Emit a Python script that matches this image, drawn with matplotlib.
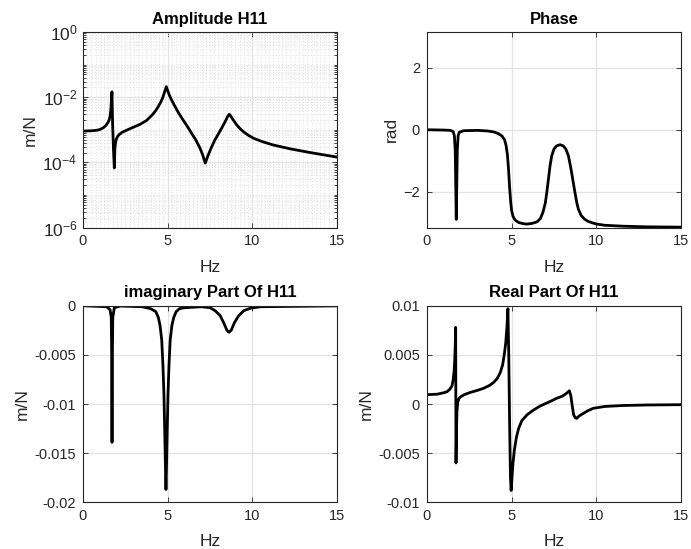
"""
FRF plots of H11: amplitude, phase, imaginary and real part
values read off the reference chart
"""
import matplotlib
matplotlib.use('Agg')  # no display
import matplotlib.pyplot as plt
from matplotlib.ticker import MultipleLocator, FixedLocator, NullFormatter

plt.rcParams['font.family'] = ['Liberation Sans', 'DejaVu Sans']
plt.rcParams['mathtext.fontset'] = 'custom'
plt.rcParams['mathtext.rm'] = 'Liberation Sans'
plt.rcParams['mathtext.it'] = 'Liberation Sans:italic'
plt.rcParams['mathtext.bf'] = 'Liberation Sans:bold'

# Amplitude |H11| (m/N)
amp_hz = [0, 0.5, 0.8, 1.0, 1.2, 1.35, 1.45, 1.54, 1.60, 1.65, 1.68, 1.71, 1.75,
          1.80, 1.85, 1.88, 1.92, 1.97, 2.05, 2.15, 2.3, 2.6, 2.95, 3.35, 3.74,
          4.1, 4.3, 4.45, 4.6, 4.72, 4.82, 4.92, 5.0, 5.1, 5.24, 5.4, 5.6, 5.92,
          6.15, 6.4, 6.65, 6.9, 7.05, 7.22, 7.4, 7.6, 7.8, 8.0, 8.2, 8.4, 8.55,
          8.64, 8.75, 8.9, 9.08, 9.3, 9.5, 9.8, 10.1, 10.6, 11.24, 12.23, 13.41,
          14.2, 15.0]
amp_val = [9.1e-4, 9.3e-4, 9.6e-4, 1.02e-3, 1.15e-3, 1.35e-3, 1.6e-3, 1.95e-3,
           2.6e-3, 4.5e-3, 8e-3, 1.46e-2, 1.5e-3, 2.5e-4, 6.7e-5, 2.5e-4, 4e-4,
           5.2e-4, 6.3e-4, 7.2e-4, 8.3e-4, 9.8e-4, 1.18e-3, 1.45e-3, 1.9e-3,
           2.9e-3, 3.9e-3, 5.2e-3, 7.2e-3, 1.0e-2, 1.45e-2, 2.1e-2, 1.6e-2, 1.15e-2,
           8e-3, 5.6e-3, 3.6e-3, 1.95e-3, 1.3e-3, 8e-4, 5e-4, 2.8e-4, 1.8e-4, 9.5e-5,
           1.7e-4, 3e-4, 5e-4, 7.5e-4, 1.15e-3, 1.8e-3, 2.6e-3, 3e-3, 2.5e-3,
           1.9e-3, 1.4e-3, 1.05e-3, 8.5e-4, 6.6e-4, 5.4e-4, 4.3e-4, 3.4e-4, 2.6e-4,
           2.0e-4, 1.7e-4, 1.45e-4]

# Phase (rad)
ph_hz = [0, 1.0, 1.38, 1.55, 1.62, 1.67, 1.70, 1.73, 1.76, 1.79, 1.84, 1.91, 2.17,
         3.0, 3.6, 3.94, 4.2, 4.43, 4.58, 4.67, 4.75, 4.82, 4.88, 4.94, 5.0, 5.08,
         5.2, 5.41, 5.7, 5.91, 6.2, 6.50, 6.7, 6.85, 6.99, 7.08, 7.17, 7.27, 7.37,
         7.5, 7.65, 7.86, 8.05, 8.2, 8.35, 8.45, 8.55, 8.64, 8.75, 8.85, 8.94, 9.1,
         9.3, 9.5, 9.75, 10.02, 10.5, 11.6, 13.0, 15.0]
ph_val = [0, -0.01, -0.02, -0.06, -0.2, -0.67, -1.8, -2.88, -1.8, -0.67, -0.2,
          -0.08, -0.03, -0.02, -0.04, -0.07, -0.12, -0.2, -0.32, -0.5, -0.8, -1.3,
          -1.85, -2.3, -2.6, -2.78, -2.9, -2.98, -3.02, -3.03, -3.01, -2.96, -2.85,
          -2.65, -2.35, -2.0, -1.6, -1.15, -0.83, -0.62, -0.52, -0.48, -0.52, -0.62,
          -0.83, -1.1, -1.4, -1.7, -2.05, -2.35, -2.55, -2.75, -2.87, -2.94, -2.99,
          -3.03, -3.07, -3.10, -3.12, -3.13]

# Imaginary part (m/N)
im_hz = [0, 1.4, 1.6, 1.67, 1.70, 1.715, 1.73, 1.76, 1.85, 2.2, 3.5, 4.0, 4.3,
         4.45, 4.55, 4.65, 4.72, 4.78, 4.83, 4.87, 4.90, 4.93, 4.97, 5.02, 5.08,
         5.15, 5.25, 5.36, 5.5, 5.7, 6.0, 7.0, 7.5, 7.8, 8.1, 8.3, 8.5, 8.62,
         8.75, 8.95, 9.2, 9.5, 9.9, 10.5, 15.0]
im_val = [0, -0.0001, -0.0004, -0.0012, -0.006, -0.0139, -0.006, -0.0012, -0.0002,
          -0.00003, -0.0001, -0.0003, -0.0006, -0.0012, -0.002, -0.0035, -0.006,
          -0.009, -0.013, -0.0165, -0.0187, -0.0165, -0.013, -0.009, -0.006,
          -0.0035, -0.002, -0.0012, -0.0006, -0.0003, -0.0002, -0.0001, -0.0002,
          -0.0005, -0.001, -0.0017, -0.0025, -0.0027, -0.0025, -0.0017, -0.001,
          -0.0005, -0.00025, -0.0001, -0.00001]

# Real part (m/N)
re_hz = [0, 0.6, 1.0, 1.18, 1.35, 1.48, 1.55, 1.6, 1.64, 1.67, 1.695, 1.705, 1.715,
         1.74, 1.77, 1.82, 1.9, 2.0, 2.2, 2.56, 3.0, 3.35, 3.7, 3.94, 4.15, 4.33,
         4.47, 4.57, 4.65, 4.72, 4.78, 4.83, 4.88, 4.93, 4.97, 5.02, 5.08, 5.16,
         5.28, 5.41, 5.6, 5.91, 6.3, 6.69, 7.2, 7.66, 8.0, 8.25, 8.41, 8.5, 8.58,
         8.66, 8.76, 8.84, 9.0, 9.24, 9.5, 9.82, 10.5, 11.6, 13.0, 15.0]
re_val = [0.00095, 0.001, 0.00115, 0.00125, 0.0015, 0.00185, 0.0025, 0.0033, 0.0045,
          0.006, 0.0078, 0.0, -0.006, -0.003, -0.0008, 0.0002, 0.0006, 0.00075,
          0.00095, 0.00118, 0.0014, 0.0016, 0.0019, 0.0022, 0.0026, 0.0032, 0.004,
          0.0051, 0.0062, 0.0078, 0.0097, 0.005, -0.002, -0.0075, -0.0088, -0.0075,
          -0.006, -0.0047, -0.0034, -0.0025, -0.0017, -0.0011, -0.0006, -0.0002,
          0.0002, 0.00058, 0.0008, 0.0011, 0.00135, 0.0008, -0.0002, -0.0011,
          -0.0014, -0.00146, -0.0012, -0.00095, -0.00068, -0.00044, -0.00025,
          -0.00015, -0.0001, -0.00007]

AX_COLOR = '#262626'
GRID_COLOR = '#e3e3e3'


def style_axes(ax, title, ylabel):
    ax.set_xlim(0, 15)
    ax.xaxis.set_major_locator(MultipleLocator(5))
    ax.set_title(title, fontsize=12, fontweight='bold', color='black', pad=6)
    ax.set_xlabel('Hz', fontsize=12.5, color=AX_COLOR, labelpad=8)
    ax.set_ylabel(ylabel, fontsize=12.5, color=AX_COLOR, labelpad=3)
    ax.grid(True, which='major', color=GRID_COLOR, linewidth=0.9)
    ax.set_axisbelow(True)
    ax.tick_params(which='both', direction='in', top=True, right=True,
                   colors=AX_COLOR, labelsize=10.5, length=3.5, width=0.6, pad=5)
    for sp in ax.spines.values():
        sp.set_color(AX_COLOR)
        sp.set_linewidth(0.8)


fig = plt.figure(figsize=(6.91, 5.49), dpi=100)
ax1 = fig.add_axes([0.1201, 0.5856, 0.3676, 0.3561])
ax2 = fig.add_axes([0.6179, 0.5856, 0.3676, 0.3561])
ax3 = fig.add_axes([0.1201, 0.0851, 0.3676, 0.3580])
ax4 = fig.add_axes([0.6179, 0.0851, 0.3676, 0.3580])

# Amplitude, log scale with minor grid
ax1.semilogy(amp_hz, amp_val, color='black', linewidth=2)
style_axes(ax1, 'Amplitude H11', 'm/N')
ax1.set_ylim(1e-6, 1)
ax1.yaxis.set_major_locator(FixedLocator([1e-6, 1e-4, 1e-2, 1]))
ax1.set_yticklabels(['$10^{-6}$', '$10^{-4}$', '$10^{-2}$', '$10^{0}$'])
ax1.tick_params(axis='y', which='major', labelsize=12.5, pad=4)
minor_y = [m * 10.0 ** e for e in range(-6, 0) for m in range(1, 10) if not (m == 1 and e % 2 == 0)]
ax1.yaxis.set_minor_locator(FixedLocator(minor_y))
ax1.yaxis.set_minor_formatter(NullFormatter())
ax1.xaxis.set_minor_locator(MultipleLocator(0.25))
ax1.tick_params(axis='x', which='minor', length=0)
ax1.tick_params(axis='y', which='minor', length=2)
ax1.grid(True, which='minor', color='#e0e0e0', linewidth=0.7, linestyle=(0, (1, 2)))

# Phase
ax2.plot(ph_hz, ph_val, color='black', linewidth=2)
style_axes(ax2, 'Phase', 'rad')
ax2.set_ylim(-3.1416, 3.1416)
ax2.set_yticks([-2, 0, 2])

# Imaginary part
ax3.plot(im_hz, im_val, color='black', linewidth=2)
style_axes(ax3, 'imaginary Part Of H11', 'm/N')
ax3.set_ylim(-0.02, 0)
ax3.set_yticks([-0.02, -0.015, -0.01, -0.005, 0])
ax3.set_yticklabels(['-0.02', '-0.015', '-0.01', '-0.005', '0'])

# Real part
ax4.plot(re_hz, re_val, color='black', linewidth=2)
style_axes(ax4, 'Real Part Of H11', 'm/N')
ax4.set_ylim(-0.01, 0.01)
ax4.set_yticks([-0.01, -0.005, 0, 0.005, 0.01])
ax4.set_yticklabels(['-0.01', '-0.005', '0', '0.005', '0.01'])

fig.savefig('out.png', dpi=100)
plt.close(fig)
